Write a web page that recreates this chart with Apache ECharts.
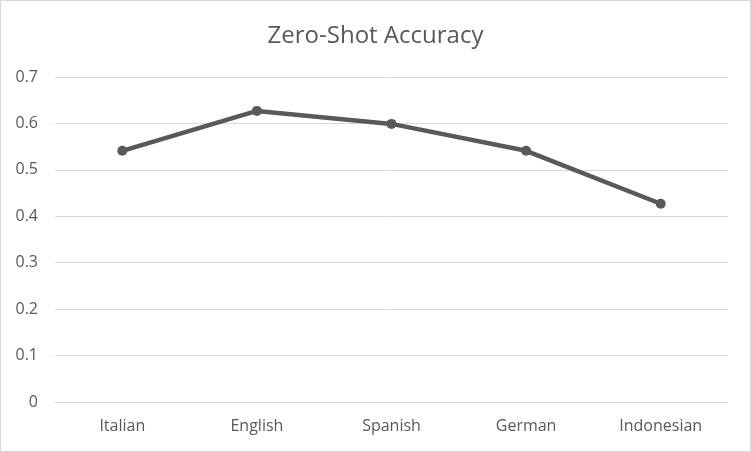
<!DOCTYPE html>
<html>
<head>
<meta charset="utf-8">
<script src="https://cdn.jsdelivr.net/npm/echarts@6/dist/echarts.min.js"></script>
<style>
  html, body { margin: 0; padding: 0; background: #fff; }
  #chart { width: 749px; height: 450px; border: 1px solid #d9d9d9; }
</style>
</head>
<body>
<div id="chart"></div>
<script>
const categories = ['Italian', 'English', 'Spanish', 'German', 'Indonesian'];
const accuracy = [0.541, 0.627, 0.599, 0.541, 0.427];

const chart = echarts.init(document.getElementById('chart'));
const labelFont = '"Open Sans", "Noto Sans", sans-serif';
chart.setOption({
    animation: false,
    title: {
        text: 'Zero-Shot Accuracy',
        left: 'center',
        top: 18,
        textStyle: { fontFamily: labelFont, fontSize: 24, fontWeight: 'normal', color: '#595959' },
    },
    grid: { left: 54, right: 22, top: 76, bottom: 49 },
    xAxis: {
        type: 'category',
        data: categories,
        axisLine: { lineStyle: { color: '#d9d9d9', width: 1 } },
        axisTick: { show: false },
        axisLabel: { fontFamily: labelFont, fontSize: 16, color: '#595959', margin: 16 },
    },
    yAxis: {
        type: 'value',
        min: 0,
        max: 0.7,
        interval: 0.1,
        axisLine: { show: false },
        axisTick: { show: false },
        splitLine: { lineStyle: { color: '#d9d9d9', width: 1 } },
        axisLabel: { fontFamily: labelFont, fontSize: 16, color: '#595959', margin: 17, formatter: v => String(+v.toFixed(1)) },
    },
    series: [{
        type: 'line',
        data: accuracy,
        symbol: 'circle',
        symbolSize: 10,
        lineStyle: { color: '#595959', width: 4.5 },
        itemStyle: { color: '#595959' },
    }],
});
</script>
</body>
</html>
